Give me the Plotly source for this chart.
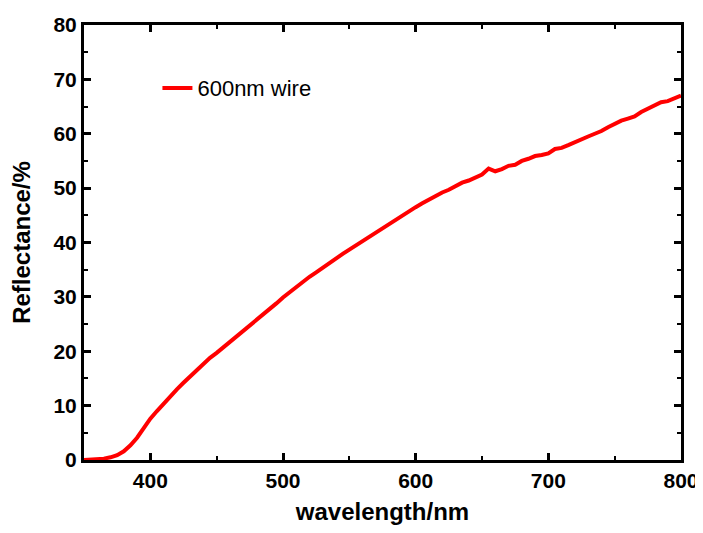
import plotly.graph_objects as go

wavelength = list(range(350, 801, 5))
reflectance = [
    0.0, 0.05, 0.1, 0.25, 0.5, 0.9, 1.6, 2.7, 4.1, 5.9,
    7.6, 9.0, 10.4, 11.8, 13.0, 14.2, 15.4, 16.6, 17.8, 18.8,
    19.7, 20.7, 21.6, 22.6, 23.6, 24.6, 25.6, 26.8, 27.7, 28.8,
    29.9, 30.9, 31.9, 32.8, 33.7, 34.5, 35.4, 36.2, 37.1, 37.9,
    38.7, 39.5, 40.3, 41.0, 41.8, 42.7, 43.5, 44.3, 44.9, 45.7,
    46.5, 47.2, 47.9, 48.6, 49.2, 49.7, 50.4, 51.0, 51.4, 51.9,
    52.5, 53.6, 53.1, 53.5, 54.1, 54.3, 55.0, 55.4, 55.9, 56.1,
    56.4, 57.2, 57.4, 57.9, 58.5, 58.9, 59.5, 60.0, 60.5, 61.2,
    61.9, 62.4, 62.8, 63.2, 64.0, 64.6, 65.2, 65.8, 66.0, 66.5,
    67.0,
]
series_name = "600nm wire"
x_ticks = [400, 500, 600, 700, 800]
y_ticks = [0, 10, 20, 30, 40, 50, 60, 70, 80]

FONT = "Arial, Liberation Sans, sans-serif"

fig = go.Figure()
fig.add_trace(go.Scatter(
    x=wavelength, y=reflectance, mode="lines", name=series_name,
    line=dict(color="#ff0000", width=4),
))

axis_common = dict(
    showline=True, linecolor="black", linewidth=3, mirror="ticks",
    ticks="inside", ticklen=7, tickwidth=3, tickcolor="black",
    showgrid=False, zeroline=False, automargin=False,
    ticklabeloverflow="allow",
    tickfont=dict(family=FONT, size=21, color="black", weight="bold"),
)

fig.update_xaxes(
    range=[350, 800], tickvals=x_ticks,
    minor=dict(ticks="inside", ticklen=4, tickwidth=2, dtick=50, tick0=350, tickcolor="black"),
    title=dict(text="wavelength/nm", font=dict(family=FONT, size=24, color="black", weight="bold"), standoff=21),
    **axis_common,
)
fig.update_yaxes(
    range=[0, 80], tickvals=y_ticks,
    minor=dict(ticks="inside", ticklen=4, tickwidth=2, dtick=5, tick0=0, tickcolor="black"),
    title=dict(text="Reflectance/%", font=dict(family=FONT, size=24, color="black", weight="bold"), standoff=17),
    **axis_common,
)

# page body has an 8px margin, so the paper is offset by 8px
fig.update_layout(
    width=694, height=517,
    margin=dict(l=76, r=21, t=17, b=65),
    paper_bgcolor="white", plot_bgcolor="white",
    showlegend=True,
    legend=dict(
        x=0.123, y=0.855, xanchor="left", yanchor="middle",
        bgcolor="rgba(0,0,0,0)", borderwidth=0,
        font=dict(family=FONT, size=22, color="black"),
    ),
)

fig.write_html("out.html")
